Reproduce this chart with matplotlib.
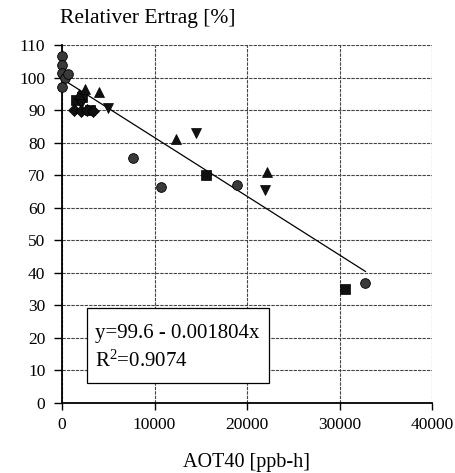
import matplotlib
matplotlib.use("Agg")
import matplotlib.pyplot as plt
from matplotlib.patches import Rectangle
import numpy as np

# Data (AOT40 [ppb-h], relative yield [%])
circle_x = [0, 0, 0, 300, 700, 0, 7700, 10700, 18900, 32800]
circle_y = [106.5, 104, 101.5, 100, 101, 97, 75.3, 66.5, 67, 37]
square_x = [1500, 2200, 3000, 15600, 30600]
square_y = [93, 94, 90, 70.2, 35]
tri_up_x = [1800, 2500, 4000, 12300, 22200]
tri_up_y = [95, 96.5, 95.5, 81, 71]
tri_dn_x = [2000, 5000, 14500, 21900]
tri_dn_y = [92, 90.5, 83, 65.5]
diam_x = [1300, 2000, 2700, 3400]
diam_y = [90, 89.8, 90, 89.8]

intercept = 99.6
slope = -0.001804
fit_x = [0, 32800]
eq_text = 'y=99.6 - 0.001804x'
r2_text = 'R$^2$=0.9074'

x_ticks = [0, 10000, 20000, 30000, 40000]
y_ticks = list(range(0, 111, 10))

plt.rcParams['font.family'] = ['Liberation Serif', 'DejaVu Serif']
plt.rcParams['mathtext.fontset'] = 'custom'
plt.rcParams['mathtext.rm'] = 'Liberation Serif'
plt.rcParams['mathtext.it'] = 'Liberation Serif'

fig = plt.figure(figsize=(4.56, 4.73), dpi=100)
ax = fig.add_axes([62/456, 1-403/473, (432-62)/456, (403-45)/473])

ax.set_xlim(0, 40000)
ax.set_ylim(0, 110)
ax.set_xticks(x_ticks)
ax.set_yticks(y_ticks)
ax.grid(True, color='#444444', lw=0.8, linestyle=(0, (3, 1)))
ax.set_axisbelow(True)
for s in ['top', 'right']:
    ax.spines[s].set_visible(False)
for s in ['left', 'bottom']:
    ax.spines[s].set_linewidth(1.3)
    ax.spines[s].set_color('black')
ax.tick_params(axis='y', direction='out', length=6, width=1.0, labelsize=12.5, pad=6)
ax.tick_params(axis='x', direction='out', length=5, width=1.0, labelsize=12.5, pad=5)

fx = np.array(fit_x)
ax.plot(fx, intercept + slope * fx, color='black', lw=0.9, zorder=3)

ms = 7
ax.plot(circle_x, circle_y, 'o', ms=ms, mfc='#3a3a3a', mec='black', mew=0.6, zorder=4, clip_on=False)
ax.plot(square_x, square_y, 's', ms=ms-0.5, mfc='#111111', mec='black', mew=0.5, zorder=4)
ax.plot(tri_up_x, tri_up_y, '^', ms=ms, mfc='#111111', mec='black', mew=0.5, zorder=4)
ax.plot(tri_dn_x, tri_dn_y, 'v', ms=ms, mfc='#111111', mec='black', mew=0.5, zorder=4)
ax.plot(diam_x, diam_y, 'D', ms=ms-1, mfc='#111111', mec='black', mew=0.5, zorder=4)

x0, x1 = (87-62)/370, (269-62)/370
y0, y1 = (403-383)/358, (403-308)/358
ax.add_patch(Rectangle((x0, y0), x1-x0, y1-y0, transform=ax.transAxes,
                       fc='white', ec='black', lw=0.9, zorder=6))
tx = (95-62)/370
ax.text(tx, (403-333)/358, eq_text, transform=ax.transAxes, fontsize=15,
        va='center', ha='left', zorder=7)
ax.text(tx, (403-361)/358, r2_text, transform=ax.transAxes, fontsize=15,
        va='center', ha='left', zorder=7)

fig.text(60/456, 1-19/473, 'Relativer Ertrag [%]', fontsize=15.5, ha='left', va='center')
fig.text(247/456, 1-462/473, 'AOT40 [ppb-h]', fontsize=14.5, ha='center', va='center')

fig.savefig('out.png', dpi=100)
